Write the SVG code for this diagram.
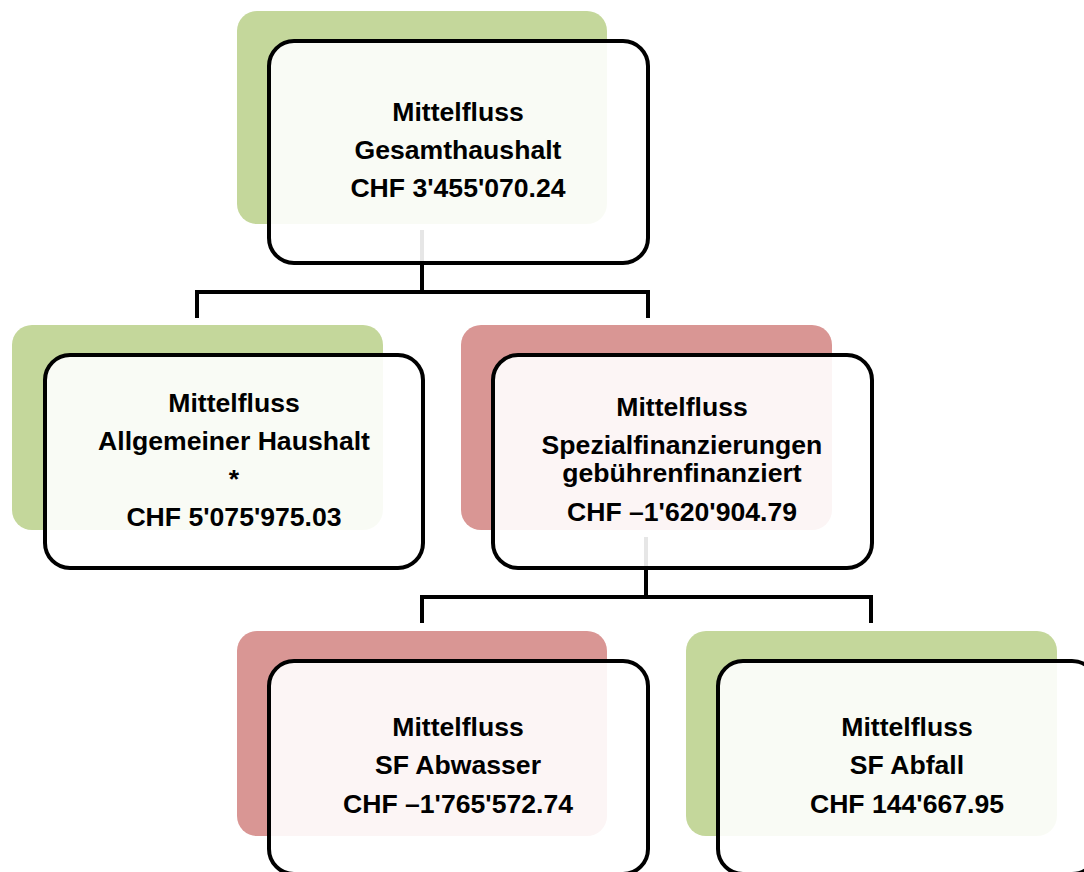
<svg xmlns="http://www.w3.org/2000/svg" width="1084" height="872" viewBox="0 0 1084 872">
<style>
  .bg-green { fill: #c4d79b; }
  .bg-red { fill: #d99694; }
  .box { fill: #ffffff; fill-opacity: 0.9; stroke: #000000; stroke-width: 4; }
  .conn { fill: none; stroke: #000000; stroke-width: 4; stroke-linejoin: miter; }
  text { font-family: "Liberation Sans", Arial, sans-serif; font-weight: bold; font-size: 26.6px; fill: #000000; text-anchor: middle; }
</style>
<rect width="1084" height="872" fill="#ffffff"/>
<g id="connectors">
  <path class="conn" d="M422,230 V292 M197,318 V292 H648 V318"/>
  <path class="conn" d="M646,537 V597 M422,623 V597 H871 V623"/>
</g>
<g id="node-gesamthaushalt">
  <rect class="bg-green" x="237" y="11" width="370" height="213" rx="20"/>
  <rect class="box" x="269" y="41" width="379" height="222" rx="25"/>
  <text x="458" y="121">Mittelfluss</text>
  <text x="458" y="159">Gesamthaushalt</text>
  <text x="458" y="197">CHF 3'455'070.24</text>
</g>
<g id="node-allgemeiner">
  <rect class="bg-green" x="12" y="325" width="371" height="205" rx="20"/>
  <rect class="box" x="45" y="355" width="378" height="213" rx="25"/>
  <text x="234" y="412">Mittelfluss</text>
  <text x="234" y="450">Allgemeiner Haushalt</text>
  <text x="234" y="488">*</text>
  <text x="234" y="526">CHF 5'075'975.03</text>
</g>
<g id="node-spezialfinanzierungen">
  <rect class="bg-red" x="461" y="325" width="371" height="205" rx="20"/>
  <rect class="box" x="493" y="355" width="379" height="213" rx="25"/>
  <text x="682" y="416">Mittelfluss</text>
  <text x="682" y="454">Spezialfinanzierungen</text>
  <text x="682" y="482">gebührenfinanziert</text>
  <text x="682" y="521">CHF –1'620'904.79</text>
</g>
<g id="node-abwasser">
  <rect class="bg-red" x="237" y="631" width="370" height="205" rx="20"/>
  <rect class="box" x="269" y="661" width="379" height="213" rx="25"/>
  <text x="458" y="736">Mittelfluss</text>
  <text x="458" y="774">SF Abwasser</text>
  <text x="458" y="813">CHF –1'765'572.74</text>
</g>
<g id="node-abfall">
  <rect class="bg-green" x="686" y="631" width="371" height="205" rx="20"/>
  <rect class="box" x="718" y="661" width="379" height="213" rx="25"/>
  <text x="907" y="736">Mittelfluss</text>
  <text x="907" y="774">SF Abfall</text>
  <text x="907" y="813">CHF 144'667.95</text>
</g>
</svg>
